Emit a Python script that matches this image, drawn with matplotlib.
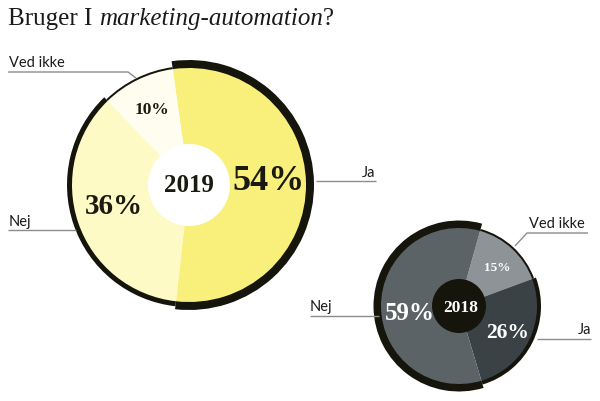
import matplotlib
matplotlib.use("Agg")
import matplotlib.pyplot as plt
from matplotlib.patches import Circle

# %% data
labels_2019 = ["Ja", "Nej", "Ved ikke"]
values_2019 = [54, 36, 10]
labels_2018 = ["Ved ikke", "Ja", "Nej"]
values_2018 = [15, 26, 59]

title_parts = [("Bruger I ", "normal"), ("marketing-automation", "italic"), ("?", "normal")]

# %% style
H = 401
ring = "#16150c"
line_col = "#8c8c8c"
serif = "Liberation Serif"
sans = "Lato"


def P(x, y):
    """pixel coords (y down) -> axes data coords"""
    return x, H - y


fig = plt.figure(figsize=(6, 4.01), dpi=100)
ax = fig.add_axes([0, 0, 1, 1])
ax.set_xlim(0, 600)
ax.set_ylim(0, H)
ax.set_aspect("equal")
ax.axis("off")


def draw_pie(vals, cols, center, r, start, ring_w, hole_r, hole_col):
    ax.pie(vals, colors=cols, center=center, radius=r, startangle=start,
           counterclock=False, wedgeprops=dict(linewidth=0))
    # outline ring, thickness grows with the share
    for i, w in enumerate(ring_w):
        rc = ["none"] * len(vals)
        rc[i] = ring
        ax.pie(vals, colors=rc, center=center, radius=r - 1 + w, startangle=start,
               counterclock=False, wedgeprops=dict(width=w, linewidth=0))
    ax.add_patch(Circle(center, hole_r, color=hole_col, lw=0, zorder=3))


# big pie 2019
c19 = P(189, 185)
draw_pie(values_2019, ["#f9f07c", "#fdfac6", "#fffdf0"], c19, 118, 98,
         [8, 5, 2], 41, "white")
# small pie 2018
c18 = P(459, 306)
draw_pie(values_2018, ["#8d9396", "#3a4245", "#5b6367"], c18, 79, 74.3,
         [2, 4, 7.5], 27, ring)
ax.set_xlim(0, 600)
ax.set_ylim(0, H)

# %% percent labels
pct = dict(family=serif, weight="bold", ha="center", va="center", zorder=4)
ax.text(*P(269, 182), f"{values_2019[0]}%", fontsize=26, color="#1a1a10", **pct)
ax.text(*P(114, 207), f"{values_2019[1]}%", fontsize=21, color="#1a1a10", **pct)
ax.text(*P(152, 110), f"{values_2019[2]}%", fontsize=12.5, color="#1a1a10", **pct)
ax.text(*P(189, 185), "2019", fontsize=18, color="#1a1a10", **pct)

ax.text(*P(410, 313), f"{values_2018[2]}%", fontsize=18, color="white", **pct)
ax.text(*P(508, 333), f"{values_2018[1]}%", fontsize=15.5, color="white", **pct)
ax.text(*P(497, 268), f"{values_2018[0]}%", fontsize=9.5, color="white", **pct)
ax.text(*P(461, 308), "2018", fontsize=12.5, color="white", **pct)

# %% category labels with leader lines
lab = dict(family=sans, fontsize=10.5, color="#1a1a1a", va="baseline")


def leader(pts):
    xs, ys = zip(*[P(x, y) for x, y in pts])
    ax.plot(xs, ys, color=line_col, lw=1, solid_capstyle="butt", zorder=1)


ax.text(*P(9, 67), labels_2019[2], **lab)
leader([(8, 72), (128, 72), (136, 78)])
ax.text(*P(362, 177), labels_2019[0], **lab)
leader([(316, 181), (376, 181)])
ax.text(*P(9, 226), labels_2019[1], **lab)
leader([(8, 230), (76, 230)])

ax.text(*P(529, 228), labels_2018[0], **lab)
leader([(588, 233), (527, 233), (515, 246)])
ax.text(*P(310, 311), labels_2018[2], **lab)
leader([(310, 316), (379, 316)])
ax.text(*P(578, 334), labels_2018[1], **lab)
leader([(537, 339), (591, 339)])

# %% title, mixed upright / italic
fig.canvas.draw()
r = fig.canvas.get_renderer()
x = 8
for s, style in title_parts:
    t = ax.text(*P(x, 25), s, family=serif, style=style, fontsize=18,
                color="#1a1a1a", va="baseline")
    bb = t.get_window_extent(renderer=r)
    x += bb.width

fig.savefig("out.png", dpi=100)
